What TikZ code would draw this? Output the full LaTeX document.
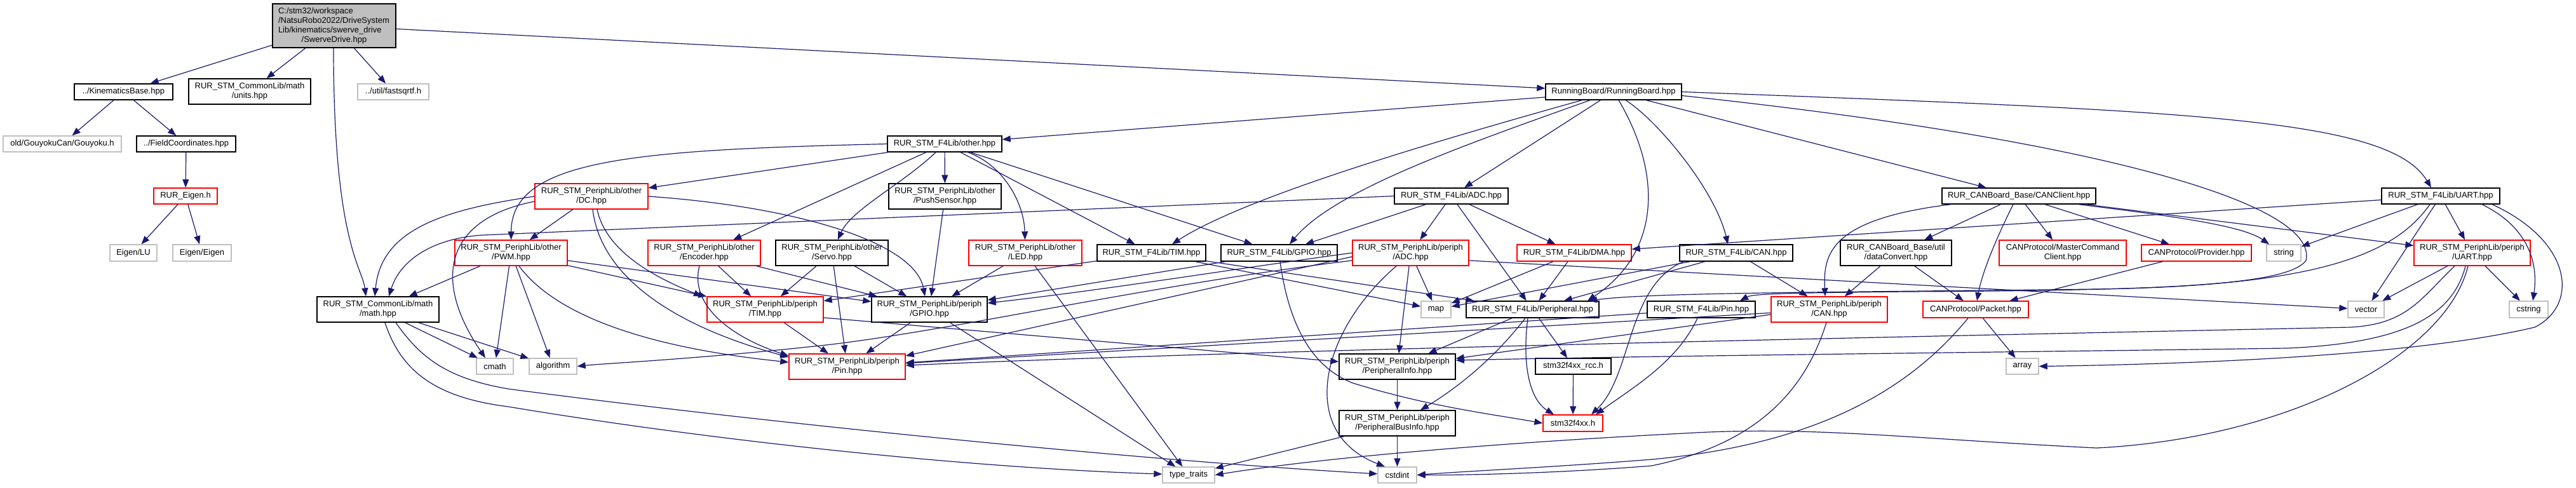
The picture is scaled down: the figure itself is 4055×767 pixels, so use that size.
\documentclass[tikz,border=0pt]{standalone}
\usepackage{fontspec}
\setmainfont{Liberation Sans}
\usetikzlibrary{arrows.meta}
\definecolor{edgec}{RGB}{25,25,112}
\definecolor{gline}{RGB}{191,191,191}
\definecolor{sdfill}{RGB}{191,191,191}
\newcommand{\mkbox}[7]{\node[#1, minimum width={(#4-#3)*0.5pt}, minimum height={(#6-#5)*0.5pt}] (#2) at ({(#3+#4)/2},{(#5+#6)/2}) {#7};}
\tikzset{
  dep/.style={draw=edgec, line width=0.6pt, -{Triangle[length=6.5pt,width=5pt]}},
  bx/.style={draw, line width=0.7pt, inner sep=0pt, align=center, font=\fontsize{6.5pt}{7.4pt}\selectfont},
  kbox/.style={bx, draw=black},
  rbox/.style={bx, draw=red},
  gbox/.style={bx, draw=gline}
}
\begin{document}
\begin{tikzpicture}[x=0.5pt,y=-0.5pt]
\path[fill=white] (0,0) rectangle (4055,767);
\useasboundingbox (0,0) rectangle (4055,767);
% ---------- nodes ----------
\node[kbox, fill=sdfill, minimum width=97pt, minimum height=34.5pt, text width=88pt, inner xsep=4.5pt, align=left] (sd) at (526,40.5)
 {C:/stm32/workspace\\/NatsuRobo2022/DriveSystem\\Lib/kinematics/swerve\_drive\\\makebox[88pt][c]{/SwerveDrive.hpp}};
\mkbox{kbox}{kb}{117}{272}{132}{157}{../KinematicsBase.hpp}
\mkbox{kbox}{units}{297}{489}{124}{164}{RUR\_STM\_CommonLib/math\\/units.hpp}
\mkbox{gbox}{fsq}{563}{675}{132}{157}{../util/fastsqrtf.h}
\mkbox{gbox}{gouy}{5}{191}{214}{239}{old/GouyokuCan/Gouyoku.h}
\mkbox{kbox}{fc}{215}{371}{214}{239}{../FieldCoordinates.hpp}
\mkbox{rbox}{eig}{242}{342}{296}{321}{RUR\_Eigen.h}
\mkbox{gbox}{elu}{173}{247}{385}{411}{Eigen/LU}
\mkbox{gbox}{eeig}{272}{364}{385}{411}{Eigen/Eigen}
\mkbox{kbox}{math}{499}{691}{467}{507}{RUR\_STM\_CommonLib/math\\/math.hpp}
\mkbox{rbox}{pwm}{716}{893}{378}{418}{RUR\_STM\_PeriphLib/other\\/PWM.hpp}
\mkbox{rbox}{dc}{842}{1020}{289}{329}{RUR\_STM\_PeriphLib/other\\/DC.hpp}
\mkbox{rbox}{enc}{1020}{1197}{378}{418}{RUR\_STM\_PeriphLib/other\\/Encoder.hpp}
\mkbox{kbox}{servo}{1221}{1398}{378}{418}{RUR\_STM\_PeriphLib/other\\/Servo.hpp}
\mkbox{gbox}{cmath}{750}{808}{564}{589}{cmath}
\mkbox{gbox}{algo}{833}{908}{564}{589}{algorithm}
\mkbox{rbox}{ptim}{1113}{1296}{467}{507}{RUR\_STM\_PeriphLib/periph\\/TIM.hpp}
\mkbox{rbox}{ppin}{1242}{1425}{557}{597}{RUR\_STM\_PeriphLib/periph\\/Pin.hpp}
\mkbox{kbox}{other}{1397}{1577}{214}{239}{RUR\_STM\_F4Lib/other.hpp}
\mkbox{kbox}{push}{1399}{1576}{289}{329}{RUR\_STM\_PeriphLib/other\\/PushSensor.hpp}
\mkbox{rbox}{led}{1525}{1703}{378}{418}{RUR\_STM\_PeriphLib/other\\/LED.hpp}
\mkbox{kbox}{ftim}{1727}{1898}{385}{411}{RUR\_STM\_F4Lib/TIM.hpp}
\mkbox{kbox}{fgpio}{1922}{2105}{385}{411}{RUR\_STM\_F4Lib/GPIO.hpp}
\mkbox{kbox}{pgpio}{1372}{1554}{467}{507}{RUR\_STM\_PeriphLib/periph\\/GPIO.hpp}
\mkbox{gbox}{tt}{1830}{1912}{735}{760}{type\_traits}
\mkbox{kbox}{rb}{2433}{2647}{132}{157}{RunningBoard/RunningBoard.hpp}
\mkbox{kbox}{fadc}{2195}{2374}{296}{321}{RUR\_STM\_F4Lib/ADC.hpp}
\mkbox{rbox}{padc}{2129}{2312}{378}{418}{RUR\_STM\_PeriphLib/periph\\/ADC.hpp}
\mkbox{rbox}{dma}{2388}{2568}{385}{411}{RUR\_STM\_F4Lib/DMA.hpp}
\mkbox{gbox}{map}{2237}{2284}{474}{500}{map}
\mkbox{kbox}{periph}{2308}{2517}{474}{500}{RUR\_STM\_F4Lib/Peripheral.hpp}
\mkbox{kbox}{pinfo}{2108}{2291}{557}{597}{RUR\_STM\_PeriphLib/periph\\/PeripheralInfo.hpp}
\mkbox{kbox}{rcc}{2417}{2536}{564}{589}{stm32f4xx\_rcc.h}
\mkbox{kbox}{pbus}{2108}{2291}{646}{686}{RUR\_STM\_PeriphLib/periph\\/PeripheralBusInfo.hpp}
\mkbox{rbox}{stm}{2429}{2523}{653}{679}{stm32f4xx.h}
\mkbox{gbox}{cstdint}{2169}{2230}{735}{760}{cstdint}
\mkbox{kbox}{fpin}{2593}{2763}{474}{500}{RUR\_STM\_F4Lib/Pin.hpp}
\mkbox{kbox}{canc}{3057}{3299}{296}{321}{RUR\_CANBoard\_Base/CANClient.hpp}
\mkbox{kbox}{fcan}{2644}{2822}{385}{411}{RUR\_STM\_F4Lib/CAN.hpp}
\mkbox{kbox}{dconv}{2897}{3072}{378}{418}{RUR\_CANBoard\_Base/util\\/dataConvert.hpp}
\mkbox{rbox}{mcc}{3147}{3347}{378}{418}{CANProtocol/MasterCommand\\Client.hpp}
\mkbox{rbox}{pcan}{2788}{2971}{467}{507}{RUR\_STM\_PeriphLib/periph\\/CAN.hpp}
\mkbox{rbox}{packet}{3027}{3193}{474}{500}{CANProtocol/Packet.hpp}
\mkbox{gbox}{array}{3158}{3209}{564}{589}{array}
\mkbox{kbox}{fuart}{3749}{3935}{296}{321}{RUR\_STM\_F4Lib/UART.hpp}
\mkbox{rbox}{prov}{3371}{3544}{385}{411}{CANProtocol/Provider.hpp}
\mkbox{gbox}{string}{3568}{3622}{385}{411}{string}
\mkbox{rbox}{puart}{3800}{3983}{378}{418}{RUR\_STM\_PeriphLib/periph\\/UART.hpp}
\mkbox{gbox}{vector}{3696}{3753}{474}{500}{vector}
\mkbox{gbox}{cstring}{3950}{4011}{474}{500}{cstring}
% ---------- edges ----------
% SwerveDrive
\draw[dep] (sd) -- (kb);
\draw[dep] (sd) -- (units);
\draw[dep] (sd) -- (fsq);
\draw[dep] (sd) -- (rb);
\draw[dep] (sd.south -| 525,0) .. controls (525,380) and (570,420) .. (math.north -| 576,0);
\draw[dep] (kb) -- (gouy);
\draw[dep] (kb) -- (fc);
\draw[dep] (fc) -- (eig);
\draw[dep] (eig) -- (elu);
\draw[dep] (eig) -- (eeig);
% RunningBoard
\draw[dep] (rb) -- (other);
\draw[dep] (rb.south -| 2490,0) .. controls (2250,225) and (1960,310) .. (ftim.north -| 1845,0);
\draw[dep] (rb.south -| 2503,0) .. controls (2300,230) and (2100,300) .. (fgpio.north -| 2030,0);
\draw[dep] (rb) -- (fadc);
\draw[dep] (rb.south -| 2548,0) .. controls (2620,280) and (2610,400) .. (periph.north -| 2499,0);
\draw[dep] (rb.south -| 2559,0) .. controls (2610,190) and (2700,300) .. (fcan.north -| 2720,0);
\draw[dep] (rb) -- (canc);
\draw[dep] (rb.east) .. controls (3450,175) and (3760,185) .. (fuart.north -| 3827,0);
\draw[dep] ([yshift=-3pt]rb.east) .. controls (3300,220) and (3650,320) .. (3630,410) .. controls (3600,450) and (3400,457) .. (3000,459) .. controls (2820,461) and (2760,462) .. (fpin.north -| 2739,0);
% other.hpp
\draw[dep] (other.west) .. controls (1000,236) and (805,250) .. (pwm);
\draw[dep] (other) -- (dc);
\draw[dep] (other) -- (enc);
\draw[dep] (other) .. controls (1420,290) and (1340,330) .. (servo);
\draw[dep] (other) -- (push);
\draw[dep] (other) .. controls (1580,260) and (1612,320) .. (led);
\draw[dep] (other) -- (ftim);
\draw[dep] (other) -- (fgpio);
% DC
\draw[dep] (dc) -- (pwm);
\draw[dep] (dc.west) .. controls (700,330) and (600,360) .. (math.north -| 590,0);
\draw[dep] ([yshift=-4pt]dc.west) .. controls (700,345) and (680,440) .. (cmath.north -| 764,0);
\draw[dep] (dc.south -| 940,0) .. controls (955,400) and (1040,440) .. (ptim.north -| 1105,0);
\draw[dep] (dc.south -| 933,0) .. controls (945,430) and (1050,510) .. (ppin.west |- 0,562);
\draw[dep] (dc.east) .. controls (1250,325) and (1440,380) .. (pgpio.north -| 1456,0);
% PWM
\draw[dep] (pwm) -- (math);
\draw[dep] (pwm) -- (cmath);
\draw[dep] (pwm) -- (algo);
\draw[dep] (pwm) -- (ptim);
\draw[dep] (pwm.south -| 817,0) .. controls (870,490) and (1000,545) .. (ppin.west |- 0,570);
\draw[dep] (pwm) -- (pgpio);
% Encoder, Servo, Push, LED
\draw[dep] (enc) -- (ptim);
\draw[dep] (enc.south -| 1101,0) .. controls (1085,480) and (1150,530) .. (ppin.west |- 0,560);
\draw[dep] (enc) -- (pgpio);
\draw[dep] (servo) -- (ptim);
\draw[dep] (servo) -- (ppin);
\draw[dep] (servo) -- (pgpio);
\draw[dep] (push) -- (pgpio);
\draw[dep] (led) -- (pgpio);
\draw[dep] (led) -- (tt);
% math
\draw[dep] (math) -- (cmath);
\draw[dep] (math) -- (algo);
\draw[dep] (math.south -| 623,0) .. controls (660,560) and (700,595) .. (800,612) .. controls (1200,665) and (1800,725) .. (cstdint);
\draw[dep] (math.south -| 606,0) .. controls (630,580) and (680,625) .. (800,640) .. controls (1100,690) and (1500,735) .. (tt);
% F4Lib TIM / GPIO
\draw[dep] (ftim) -- (ptim);
\draw[dep] (ftim) -- (periph);
\draw[dep] (ftim) -- (map);
\draw[dep] (fgpio) -- (pgpio);
\draw[dep] (fgpio.south -| 2015,0) .. controls (2030,520) and (2070,580) .. (2130,603) .. controls (2250,640) and (2350,652) .. (stm.west);
% F4Lib ADC
\draw[dep] (fadc) -- (fgpio);
\draw[dep] (fadc) -- (padc);
\draw[dep] (fadc) -- (dma);
\draw[dep] (fadc) -- (periph);
\draw[dep] (fadc.west) -- (760,370) .. controls (680,375) and (630,410) .. (math.north -| 612,0);
% periph ADC
\draw[dep] (padc) -- (map);
\draw[dep] (padc) -- (pinfo);
\draw[dep] (padc.south -| 2198,0) .. controls (2080,520) and (2040,680) .. (cstdint.north -| 2180,0);
\draw[dep] (padc.west) .. controls (1950,422) and (1750,455) .. (pgpio.east |- 0,477);
\draw[dep] ([yshift=-3pt]padc.west) -- (ppin.east |- 0,560);
\draw[dep] ([yshift=-6pt]padc.west) .. controls (1800,450) and (1500,520) .. (1300,543) .. controls (1100,565) and (950,572) .. (algo.east);
\draw[dep] ([yshift=-6pt]padc.east) -- (vector);
% DMA, Peripheral
\draw[dep] (dma) -- (map);
\draw[dep] (dma) -- (periph);
\draw[dep] (periph) -- (pinfo);
\draw[dep] (periph.south -| 2401,0) .. controls (2340,580) and (2270,625) .. (pbus.north -| 2236,0);
\draw[dep] (periph.south -| 2405,0) .. controls (2395,580) and (2410,630) .. (stm.north -| 2446,0);
\draw[dep] (periph) -- (rcc);
\draw[dep] (rcc) -- (stm);
\draw[dep] (pinfo) -- (pbus);
\draw[dep] (pbus) -- (cstdint);
\draw[dep] (pbus) -- (tt);
% periph TIM / GPIO
\draw[dep] (ptim) -- (ppin);
\draw[dep] (ptim.east |- 0,500) -- (pinfo);
\draw[dep] (pgpio) -- (ppin);
\draw[dep] (pgpio) -- (tt);
% F4Lib Pin / CAN
\draw[dep] (fpin) -- (ppin);
\draw[dep] (fpin.south -| 2672,0) .. controls (2640,570) and (2570,610) .. (stm.north -| 2512,0);
\draw[dep] (fcan) -- (periph);
\draw[dep] (fcan) -- (map);
\draw[dep] (fcan.south -| 2650,0) .. controls (2560,450) and (2570,590) .. (stm.north -| 2505,0);
\draw[dep] (fcan) -- (pcan);
% CAN periph
\draw[dep] (pcan) -- (ppin);
\draw[dep] ([yshift=-4pt]pcan.west) -- (pinfo);
\draw[dep] (pcan.south -| 2875,0) .. controls (2840,620) and (2760,700) .. (2600,733) .. controls (2450,745) and (2300,748) .. (cstdint.east);
% CANClient
\draw[dep] (canc) -- (dconv);
\draw[dep] (canc) -- (mcc);
\draw[dep] (canc.south -| 3071,0) .. controls (2880,345) and (2870,400) .. (pcan.north -| 2873,0);
\draw[dep] (canc.south -| 3169,0) .. controls (3140,380) and (3120,430) .. (packet.north -| 3112,0);
\draw[dep] (canc) -- (prov);
\draw[dep] (canc.south -| 3272,0) .. controls (3420,340) and (3530,355) .. (string.north -| 3572,0);
\draw[dep] (canc) -- (puart);
\draw[dep] (dconv) -- (pcan);
\draw[dep] (dconv) -- (packet);
\draw[dep] (prov) -- (packet);
\draw[dep] (packet) -- (array);
\draw[dep] (packet.south -| 3098,0) .. controls (3000,620) and (2850,700) .. (2600,723) .. controls (2450,735) and (2300,742) .. (cstdint.east);
% F4Lib UART
\draw[dep] (fuart) -- (dma);
\draw[dep] (fuart) -- (string);
\draw[dep] (fuart) -- (puart);
\draw[dep] (fuart) -- (vector);
\draw[dep] (fuart.south -| 3907,0) .. controls (3985,360) and (3995,420) .. (cstring.north -| 3987,0);
\draw[dep] (fuart.south -| 3923,0) .. controls (4050,380) and (4060,480) .. (3990,515) .. controls (3800,560) and (3450,573) .. (array.east);
\draw[dep] (fuart.south -| 3825,0) .. controls (3770,400) and (3650,450) .. (3300,455) .. controls (2900,460) and (2600,460) .. (periph.north -| 2501,0);
% periph UART
\draw[dep] (puart) -- (vector);
\draw[dep] (puart) -- (cstring);
\draw[dep] (puart.south -| 3864,0) .. controls (3810,470) and (3790,510) .. (3700,515) .. controls (3000,530) and (2000,550) .. (ppin.east |- 0,575);
\draw[dep] (puart.south -| 3881,0) .. controls (3860,500) and (3780,540) .. (3600,548) .. controls (3100,555) and (2600,560) .. (pinfo.east |- 0,567);
\draw[dep] (puart.south -| 3885,0) .. controls (3850,560) and (3600,690) .. (3300,705) .. controls (3000,690) and (2850,670) .. (2650,682) .. controls (2300,700) and (2050,725) .. (tt.east);
\end{tikzpicture}
\end{document}
